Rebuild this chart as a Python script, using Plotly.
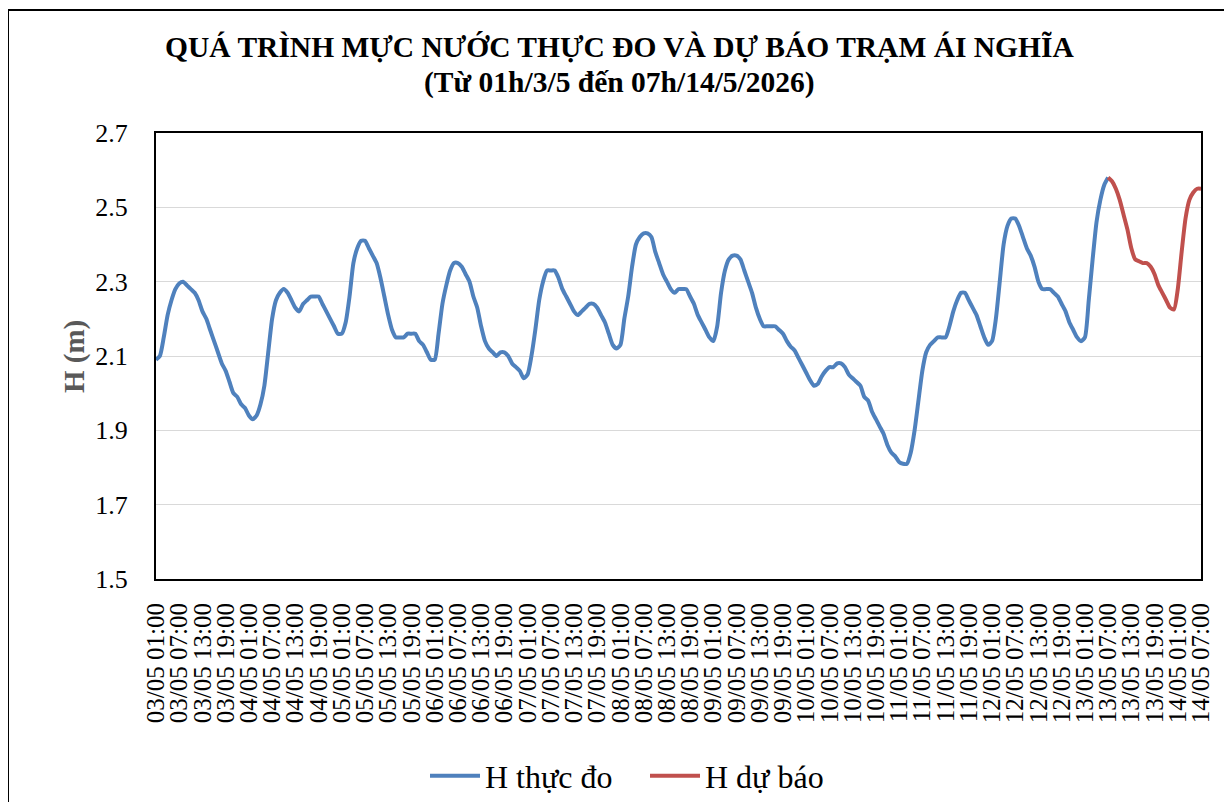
import plotly.graph_objects as go

# Hourly categories from 03/05 01:00 to 14/05 07:00
days = list(range(3, 15))
categories = []
for d in days:
    for hh in range(24):
        if d == 3 and hh < 1:
            continue
        if d == 14 and hh > 7:
            continue
        categories.append(f"{d:02d}/05 {hh:02d}:00")

# Observed water level (03/05 01:00 -> 13/05 07:00)
h_observed = [
    2.09, 2.10, 2.15, 2.21, 2.25, 2.28, 2.295, 2.30, 2.29, 2.28,
    2.27, 2.25, 2.22, 2.20, 2.17, 2.14, 2.11, 2.08, 2.06, 2.03,
    2.00, 1.99, 1.97, 1.96, 1.94, 1.93, 1.94, 1.97, 2.02, 2.11,
    2.20, 2.25, 2.27, 2.28, 2.27, 2.25, 2.23, 2.22, 2.24, 2.25,
    2.26, 2.26, 2.26, 2.24, 2.22, 2.20, 2.18, 2.16, 2.16, 2.19,
    2.26, 2.35, 2.39, 2.41, 2.41, 2.39, 2.37, 2.35, 2.31, 2.26,
    2.21, 2.17, 2.15, 2.15, 2.15, 2.16, 2.16, 2.16, 2.14, 2.13,
    2.11, 2.09, 2.09, 2.16, 2.24, 2.29, 2.33, 2.35, 2.35, 2.34,
    2.32, 2.30, 2.26, 2.23, 2.18, 2.14, 2.12, 2.11, 2.10, 2.11,
    2.11, 2.10, 2.08, 2.07, 2.06, 2.04, 2.05, 2.10, 2.17, 2.25,
    2.30, 2.33, 2.33, 2.33, 2.31, 2.28, 2.26, 2.24, 2.22, 2.21,
    2.22, 2.23, 2.24, 2.24, 2.23, 2.21, 2.19, 2.16, 2.13, 2.12,
    2.13, 2.20, 2.26, 2.34, 2.40, 2.42, 2.43, 2.43, 2.42, 2.38,
    2.35, 2.32, 2.30, 2.28, 2.27, 2.28, 2.28, 2.28, 2.26, 2.24,
    2.21, 2.19, 2.17, 2.15, 2.14, 2.18, 2.27, 2.33, 2.36, 2.37,
    2.37, 2.36, 2.33, 2.30, 2.27, 2.23, 2.20, 2.18, 2.18, 2.18,
    2.18, 2.17, 2.16, 2.14, 2.125, 2.115, 2.095, 2.075, 2.055, 2.035,
    2.02, 2.025, 2.045, 2.06, 2.07, 2.07, 2.08, 2.08, 2.07, 2.05,
    2.04, 2.03, 2.02, 1.99, 1.98, 1.95, 1.93, 1.91, 1.89, 1.86,
    1.84, 1.83, 1.815, 1.81, 1.81, 1.84, 1.90, 1.98, 2.06, 2.11,
    2.13, 2.14, 2.15, 2.15, 2.15, 2.18, 2.22, 2.25, 2.27, 2.27,
    2.25, 2.23, 2.21, 2.18, 2.15, 2.13, 2.14, 2.20, 2.30, 2.40,
    2.45, 2.47, 2.47, 2.45, 2.42, 2.39, 2.37, 2.34, 2.30, 2.28,
    2.28, 2.28, 2.27, 2.26, 2.24, 2.22, 2.19, 2.17, 2.15, 2.14,
    2.15, 2.25, 2.36, 2.46, 2.52, 2.56, 2.58,
]

# Forecast water level (13/05 07:00 -> 14/05 07:00)
h_forecast = [
    2.58, 2.57, 2.55, 2.52, 2.48, 2.44, 2.39, 2.36, 2.355, 2.35,
    2.35, 2.34, 2.32, 2.29, 2.27, 2.25, 2.23, 2.225, 2.28, 2.38,
    2.47, 2.52, 2.54, 2.55, 2.55,
]

y_ticks = [1.5, 1.7, 1.9, 2.1, 2.3, 2.5, 2.7]

n_obs = len(h_observed)
x_obs = categories[:n_obs]
x_fc = categories[n_obs - 1:n_obs - 1 + len(h_forecast)]

FONT = "Liberation Serif, Times New Roman, serif"
BLUE = "#4F81BD"
RED = "#C0504D"

fig = go.Figure()
fig.add_trace(go.Scatter(
    x=x_obs, y=h_observed, mode="lines", name="H thực đo",
    line=dict(color=BLUE, width=4, shape="spline", smoothing=0.6),
))
fig.add_trace(go.Scatter(
    x=x_fc, y=h_forecast, mode="lines", name="H dự báo",
    line=dict(color=RED, width=4, shape="spline", smoothing=0.6),
))

# The page body has an 8px margin: compensate so the screen positions match.
OFF = 8
W, H = 1232, 802
L = 156 - OFF
T = 133 - OFF
R = W - (1201 - OFF)
B = H - (579 - OFF)
pw = W - L - R
ph = H - T - B


def px(xp):
    return (xp - OFF - L) / pw


def py(yp):
    return (H - B - (yp - OFF)) / ph


fig.update_layout(
    width=W, height=H,
    margin=dict(l=L, r=R, t=T, b=B, autoexpand=False),
    paper_bgcolor="white", plot_bgcolor="white",
    font=dict(family=FONT, color="black", size=24),
    showlegend=True,
    legend=dict(
        orientation="h", x=px(425), xanchor="left",
        y=py(776), yanchor="middle",
        font=dict(size=32, family=FONT, color="black"),
        tracegroupgap=0, entrywidth=155, entrywidthmode="pixels",
        itemwidth=50,
    ),
    annotations=[
        dict(text="<b>QUÁ TRÌNH MỰC NƯỚC THỰC ĐO VÀ DỰ BÁO TRẠM ÁI NGHĨA</b>",
             xref="paper", yref="paper", x=px(619), y=py(47),
             xanchor="center", yanchor="middle", showarrow=False,
             font=dict(size=29.5, family=FONT, color="black")),
        dict(text="<b>(Từ 01h/3/5 đến 07h/14/5/2026)</b>",
             xref="paper", yref="paper", x=px(619), y=py(83),
             xanchor="center", yanchor="middle", showarrow=False,
             font=dict(size=29.5, family=FONT, color="black")),
        dict(text="<b>H (m)</b>",
             xref="paper", yref="paper", x=px(74), y=py(357),
             xanchor="center", yanchor="middle", showarrow=False,
             textangle=-90,
             font=dict(size=29, family=FONT, color="#595959")),
    ],
    shapes=[
        dict(type="rect", xref="paper", yref="paper",
             x0=px(8), x1=px(1229), y0=py(812), y1=py(10),
             line=dict(color="black", width=2), fillcolor="rgba(0,0,0,0)",
             layer="below"),
    ],
)

fig.update_xaxes(
    type="category",
    categoryorder="array", categoryarray=categories,
    range=[0, len(categories) - 1],
    tickmode="array", tickvals=categories[::6], ticktext=categories[::6],
    tickangle=-90,
    tickfont=dict(size=25, family=FONT, color="black"),
    showgrid=False, zeroline=False,
    showline=True, linecolor="black", linewidth=2, mirror=True,
    ticks="", ticklabelstandoff=12,
)
fig.update_yaxes(
    range=[1.5, 2.7],
    tickmode="array", tickvals=y_ticks, ticktext=[f"{v:.1f}" for v in y_ticks],
    tickfont=dict(size=26, family=FONT, color="black"),
    showgrid=True, gridcolor="#D9D9D9", gridwidth=1,
    zeroline=False,
    showline=True, linecolor="black", linewidth=2, mirror=True,
    ticks="", ticklabelstandoff=21,
)

fig.write_html("out.html")
